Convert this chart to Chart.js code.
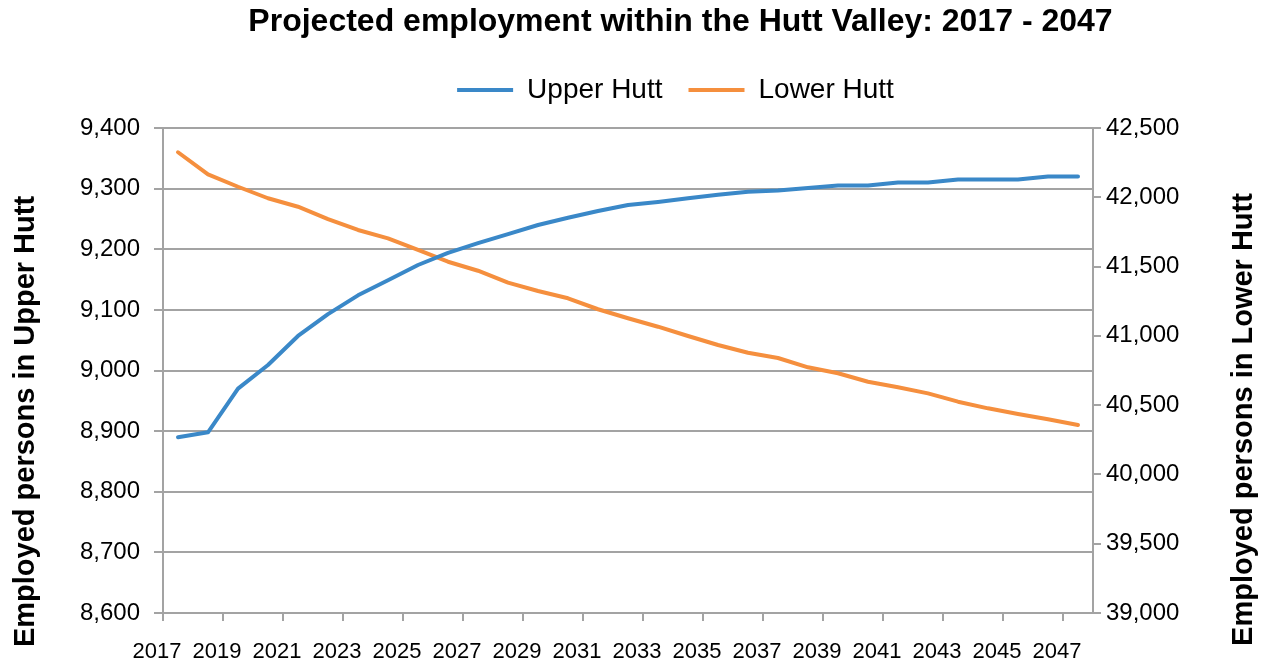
<!DOCTYPE html>
<html>
<head>
<meta charset="utf-8">
<script src="https://cdn.jsdelivr.net/npm/chart.js@4"></script>
<style>
  html, body { margin: 0; padding: 0; background: #fff; }
  #wrap { width: 1271px; height: 666px; }
</style>
</head>
<body>
<div id="wrap"><canvas id="chart"></canvas></div>
<script>
const years = ['2017', '2018', '2019', '2020', '2021', '2022', '2023', '2024', '2025', '2026',
    '2027', '2028', '2029', '2030', '2031', '2032', '2033', '2034', '2035', '2036',
    '2037', '2038', '2039', '2040', '2041', '2042', '2043', '2044', '2045', '2046', '2047'];

const upperHutt = [8890, 8898, 8970, 9009, 9057, 9093, 9124, 9149, 9174, 9194,
    9210, 9225, 9240, 9252, 9263, 9273, 9278, 9284, 9290, 9295,
    9297, 9301, 9305, 9305, 9310, 9310, 9315, 9315, 9315, 9320, 9320];

const lowerHutt = [42325, 42166, 42076, 41993, 41932, 41843, 41764, 41704, 41620, 41535,
    41470, 41384, 41324, 41271, 41192, 41127, 41066, 40999, 40934, 40878,
    40840, 40773, 40730, 40669, 40629, 40585, 40525, 40477, 40436, 40398, 40357];

const chartTitle = 'Projected employment within the Hutt Valley: 2017 - 2047';
const leftTitle = 'Employed persons in Upper Hutt';
const rightTitle = 'Employed persons in Lower Hutt';

const FONT = '"Liberation Sans", Arial, sans-serif';
const GREY = '#a3a3a3';
const BLUE = '#3a88c8';
const ORANGE = '#f58f3e';

const numberFormatter = new Intl.NumberFormat('en-US');

// give the legend a fixed height so the plot starts where the original does
const legendHeight = {
    id: 'legendHeight',
    beforeInit(chart) {
        const fit = chart.legend.fit;
        chart.legend.fit = function () {
            fit.call(this);
            this.height = 78;
        };
    },
};

// nudge title and legend to the right, like the original
const shiftTop = {
    id: 'shiftTop',
    afterLayout(chart) {
        chart.titleBlock.left += 45;
        chart.titleBlock.right += 45;
        chart.legend.left += 40;
        chart.legend.right += 40;
    },
};

// rotated axis titles, both reading bottom to top
const axisTitles = {
    id: 'axisTitles',
    afterDraw(chart) {
        const { ctx, chartArea } = chart;
        const midY = (chartArea.top + chartArea.bottom) / 2 + 51;
        ctx.save();
        ctx.font = `bold 29px ${FONT}`;
        ctx.fillStyle = '#000';
        ctx.textAlign = 'center';
        ctx.textBaseline = 'middle';

        ctx.save();
        ctx.translate(26, midY);
        ctx.rotate(-Math.PI / 2);
        ctx.fillText(leftTitle, 0, 0);
        ctx.restore();

        ctx.save();
        ctx.translate(chart.width - 27, midY - 2);
        ctx.rotate(-Math.PI / 2);
        ctx.fillText(rightTitle, 0, 0);
        ctx.restore();

        ctx.restore();
    },
};

new Chart(document.getElementById('chart'), {
    type: 'line',
    data: {
        labels: years,
        datasets: [
            {
                label: 'Upper Hutt',
                data: upperHutt,
                yAxisID: 'y',
                borderColor: BLUE,
                backgroundColor: BLUE,
                borderWidth: 4,
            },
            {
                label: 'Lower Hutt',
                data: lowerHutt,
                yAxisID: 'y2',
                borderColor: ORANGE,
                backgroundColor: ORANGE,
                borderWidth: 4,
            },
        ],
    },
    options: {
        responsive: true,
        maintainAspectRatio: false,
        animation: false,
        layout: { padding: 0 },
        elements: {
            line: {
                tension: 0,
                borderCapStyle: 'round',
                borderJoinStyle: 'round',
            },
            point: { radius: 0, hoverRadius: 0 },
        },
        plugins: {
            title: {
                display: true,
                text: chartTitle,
                color: '#000',
                font: { family: FONT, size: 32, weight: 'bold' },
                padding: { top: 3, bottom: 8.6 },
            },
            legend: {
                display: true,
                labels: {
                    color: '#000',
                    font: { family: FONT, size: 28 },
                    boxWidth: 56,
                    boxHeight: 4,
                    padding: 26,
                    generateLabels: (chart) => Chart.defaults.plugins.legend.labels.generateLabels(chart)
                        .map((item) => ({ ...item, lineWidth: 0 })),
                },
            },
            tooltip: { enabled: false },
        },
        scales: {
            x: {
                type: 'category',
                offset: true,
                afterFit: (scale) => { scale.height = 53; },
                grid: {
                    drawOnChartArea: false,
                    drawTicks: true,
                    tickLength: 8,
                    lineWidth: 2,
                    offset: true,
                    color: (c) => (c.index % 2 === 0 ? GREY : 'rgba(0,0,0,0)'),
                },
                border: { display: true, color: GREY, width: 2 },
                ticks: {
                    autoSkip: false,
                    maxRotation: 0,
                    minRotation: 0,
                    labelOffset: -21,
                    padding: 18,
                    color: '#000',
                    font: { family: FONT, size: 22 },
                    callback: (value, index) => (index % 2 === 0 ? years[index] : ''),
                },
            },
            y: {
                position: 'left',
                min: 8600,
                max: 9400,
                afterFit: (scale) => { scale.width = 163; },
                grid: {
                    color: GREY,
                    lineWidth: 2,
                    tickLength: 9,
                },
                border: { display: true, color: GREY, width: 2 },
                ticks: {
                    stepSize: 100,
                    padding: 14,
                    color: '#000',
                    font: { family: FONT, size: 24 },
                    callback: (value) => numberFormatter.format(value),
                },
            },
            y2: {
                position: 'right',
                min: 39000,
                max: 42500,
                afterFit: (scale) => { scale.width = 178; },
                grid: {
                    drawOnChartArea: false,
                    color: GREY,
                    lineWidth: 2,
                    tickLength: 8,
                },
                border: { display: true, color: GREY, width: 2 },
                ticks: {
                    stepSize: 500,
                    padding: 5,
                    color: '#000',
                    font: { family: FONT, size: 24 },
                    callback: (value) => numberFormatter.format(value),
                },
            },
        },
    },
    plugins: [legendHeight, shiftTop, axisTitles],
});
</script>
</body>
</html>
